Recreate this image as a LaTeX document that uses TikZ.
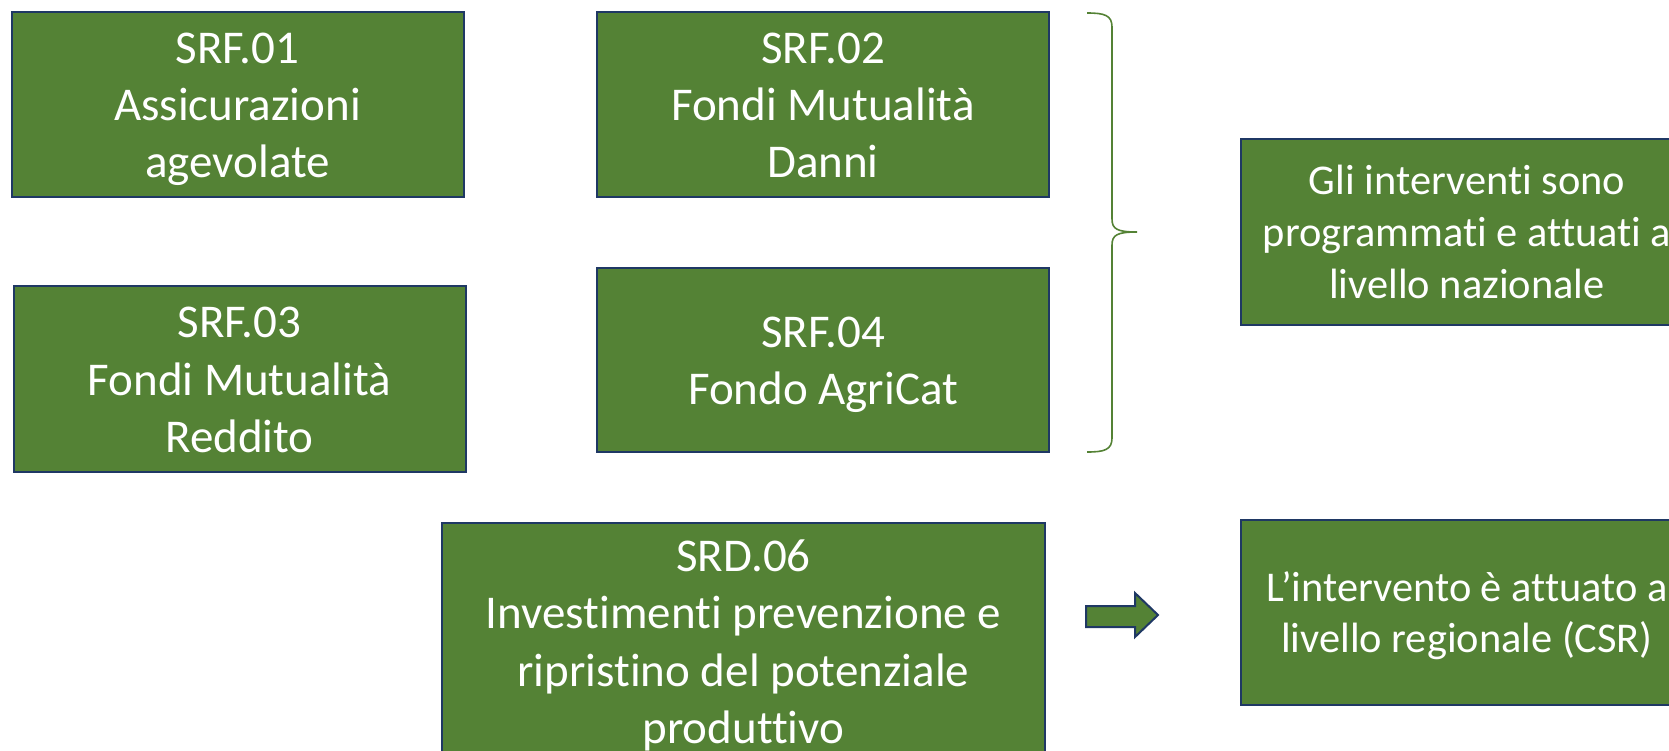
\documentclass[tikz,border=0pt]{standalone}
\usepackage{fontspec}
\setmainfont{Carlito}[Ligatures=NoCommon]
\definecolor{boxgreen}{HTML}{548235}
\definecolor{boxnavy}{HTML}{1F3864}
\newcommand\pptstrut{\rule[-0.269em]{0pt}{1.221em}}
\tikzset{
  gbox/.style={draw=boxnavy, line width=1pt, fill=boxgreen, text=white,
    align=center, inner sep=0pt, minimum width=226pt, minimum height=92.5pt,
    font=\fontsize{23.5}{28.7}\selectfont},
  rbox/.style={gbox, font=\fontsize{21.2}{25.9}\selectfont},
  bracket/.style={draw=boxgreen, line width=0.8pt},
  blockarrow/.style={draw=boxnavy, line width=1pt, fill=boxgreen, line join=miter}
}
\begin{document}
\begin{tikzpicture}[x=0.5pt,y=-0.5pt]
\useasboundingbox (0,0) rectangle (1669,750);
\clip (0,0) rectangle (1669,750);

\node[gbox] (srf01) at (237.5,104.5)
  {\pptstrut SRF.01\\\pptstrut Assicurazioni\\\pptstrut agevolate};
\node[gbox] (srf02) at (823,104.5)
  {\pptstrut SRF.02\\\pptstrut Fondi Mutualità\\\pptstrut Danni};
\node[gbox, minimum height=93pt] (srf03) at (239.5,379)
  {\pptstrut SRF.03\\\pptstrut Fondi Mutualità\\\pptstrut Reddito};
\node[gbox, minimum height=92pt] (srf04) at (823,360)
  {\pptstrut SRF.04\\\pptstrut Fondo AgriCat};
\node[gbox, minimum width=301.5pt, minimum height=118.5pt] (srd06) at (743.5,641.5)
  {\pptstrut SRD.06\\\pptstrut Investimenti prevenzione e\\\pptstrut ripristino del potenziale\\\pptstrut produttivo};

\node[rbox, minimum height=93pt] (naz) at (1467,232)
  {\pptstrut Gli interventi sono\\\pptstrut programmati e attuati a\\\pptstrut livello nazionale};
\node[rbox, minimum height=92.5pt] (reg) at (1467,612.5)
  {\pptstrut L’intervento è attuato a\\\pptstrut livello regionale (CSR)};

% brace
\draw[bracket] (1087,13) .. controls (1104,13) and (1112,15) .. (1112,27)
  -- (1112,219) .. controls (1112,229) and (1117,232) .. (1137,232)
  .. controls (1117,232) and (1112,235) .. (1112,245)
  -- (1112,438) .. controls (1112,450) and (1104,452) .. (1087,452);

% block arrow
\draw[blockarrow] (1086,606) -- (1135,606) -- (1135,593) -- (1158,615)
  -- (1135,637) -- (1135,627) -- (1086,627) -- cycle;
\end{tikzpicture}
\end{document}
